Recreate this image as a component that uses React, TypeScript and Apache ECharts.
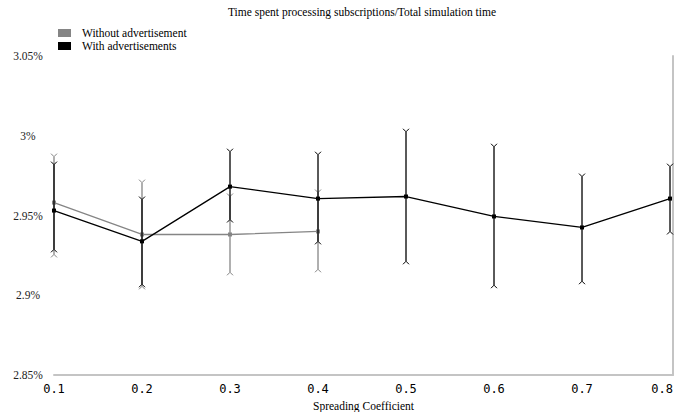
import React, { useEffect, useRef } from "react";
import * as echarts from "echarts";

const xValues = [0.1, 0.2, 0.3, 0.4, 0.5, 0.6, 0.7, 0.8];
const withAds = [2.9531, 2.9338, 2.9681, 2.9606, 2.9619, 2.9494, 2.9425, 2.9606];
const withAdsLow = [2.9288, 2.9069, 2.9475, 2.9338, 2.9213, 2.9063, 2.9088, 2.94];
const withAdsHigh = [2.9819, 2.96, 2.99, 2.9881, 3.0025, 2.9931, 2.9744, 2.9806];
const withoutAdsX = [0.1, 0.2, 0.3, 0.4];
const withoutAds = [2.9581, 2.9381, 2.9381, 2.94];
const withoutAdsLow = [2.9256, 2.9056, 2.9144, 2.9163];
const withoutAdsHigh = [2.9869, 2.9706, 2.9619, 2.9644];
const seriesNames = ["Without advertisement", "With advertisements"];
const titleText = "Time spent processing subscriptions/Total simulation time";
const xAxisName = "Spreading Coefficient";

const SERIF = "'Liberation Serif', 'DejaVu Serif', serif";

function errorRenderer(color: string) {
  return (params: any, api: any) => {
    const x = api.value(0);
    const lo = api.value(1);
    const hi = api.value(2);
    const top = api.coord([x, hi]);
    const bot = api.coord([x, lo]);
    const c = 3;
    const style = { stroke: color, lineWidth: 1.3, fill: "none" };
    return {
      type: "group",
      children: [
        { type: "line", shape: { x1: top[0], y1: top[1], x2: bot[0], y2: bot[1] }, style },
        {
          type: "polyline",
          shape: { points: [[top[0] - c, top[1] - c], [top[0], top[1]], [top[0] + c, top[1] - c]] },
          style: { stroke: color, lineWidth: 1, fill: "none" },
        },
        {
          type: "polyline",
          shape: { points: [[bot[0] - c, bot[1] + c], [bot[0], bot[1]], [bot[0] + c, bot[1] + c]] },
          style: { stroke: color, lineWidth: 1, fill: "none" },
        },
      ],
    };
  };
}

export default function App() {
  const ref = useRef<HTMLDivElement>(null);
  useEffect(() => {
    if (!ref.current) return;
    const chart = echarts.init(ref.current, undefined, { renderer: "svg" });
    const grey = "#858585";
    const black = "#000000";
    const frame = "#c4c4c4";
    const lastX = xValues[xValues.length - 1];
    chart.setOption({
      animation: false,
      backgroundColor: "#ffffff",
      title: {
        text: titleText,
        left: 223,
        top: 1,
        textStyle: { fontFamily: SERIF, fontSize: 11.5, fontWeight: "normal", color: "#000" },
      },
      legend: {
        data: seriesNames,
        orient: "vertical",
        left: 53,
        top: 22,
        itemWidth: 13,
        itemHeight: 8,
        itemGap: 1,
        icon: "rect",
        textStyle: {
          fontFamily: SERIF,
          fontSize: 11.5,
          lineHeight: 12,
          color: "#000",
          padding: [0, 0, 0, 6],
        },
      },
      grid: { left: 54, right: 3, top: 56, bottom: 37, containLabel: false, outerBoundsMode: "none" },
      xAxis: {
        type: "value",
        min: 0.1,
        max: 0.8034,
        interval: 0.1,
        name: xAxisName,
        nameLocation: "middle",
        nameGap: 23,
        nameTextStyle: { fontFamily: SERIF, fontSize: 11.5, color: "#000" },
        axisLine: { show: true, lineStyle: { color: frame, width: 2 } },
        axisTick: { show: false },
        splitLine: { show: false },
        axisLabel: {
          fontFamily: "'DejaVu Sans Mono', monospace",
          fontSize: 12,
          color: "#000",
          margin: 8,
          showMaxLabel: true,
          alignMaxLabel: "right",
          formatter: (v: number) => (Math.abs(v - lastX) < 1e-6 ? "" : v.toFixed(1)),
        },
      },
      yAxis: [
        {
          type: "value",
          min: 2.85,
          max: 3.05,
          interval: 0.05,
          axisLine: { show: false },
          axisTick: { show: false },
          splitLine: { show: false },
          axisLabel: {
            fontFamily: SERIF,
            fontSize: 11.5,
            color: "#222",
            align: "center",
            margin: 26,
            formatter: (v: number) => parseFloat(v.toFixed(2)) + "%",
          },
        },
        {
          type: "value",
          position: "right",
          min: 2.85,
          max: 3.05,
          interval: 0.05,
          axisLine: { show: true, lineStyle: { color: frame, width: 2 } },
          axisTick: { show: false },
          splitLine: { show: false },
          axisLabel: { show: false },
        },
      ],
      series: [
        {
          name: "errWithout",
          type: "custom",
          renderItem: errorRenderer(grey),
          data: withoutAdsX.map((x, i) => [x, withoutAdsLow[i], withoutAdsHigh[i]]),
          z: 1,
        },
        {
          name: seriesNames[0],
          type: "line",
          data: withoutAdsX.map((x, i) => [x, withoutAds[i]]),
          symbol: "rect",
          symbolSize: 4,
          itemStyle: { color: grey },
          lineStyle: { color: grey, width: 1.3 },
          z: 2,
        },
        {
          name: "errWith",
          type: "custom",
          renderItem: errorRenderer(black),
          data: xValues.map((x, i) => [x, withAdsLow[i], withAdsHigh[i]]),
          z: 3,
        },
        {
          name: seriesNames[1],
          type: "line",
          data: xValues.map((x, i) => [x, withAds[i]]),
          symbol: "rect",
          symbolSize: 4,
          itemStyle: { color: black },
          lineStyle: { color: black, width: 1.3 },
          z: 4,
        },
      ],
    });
    return () => chart.dispose();
  }, []);
  return (
    <div
      ref={ref}
      style={{ position: "fixed", left: 0, top: 0, width: 676, height: 412 }}
    />
  );
}
